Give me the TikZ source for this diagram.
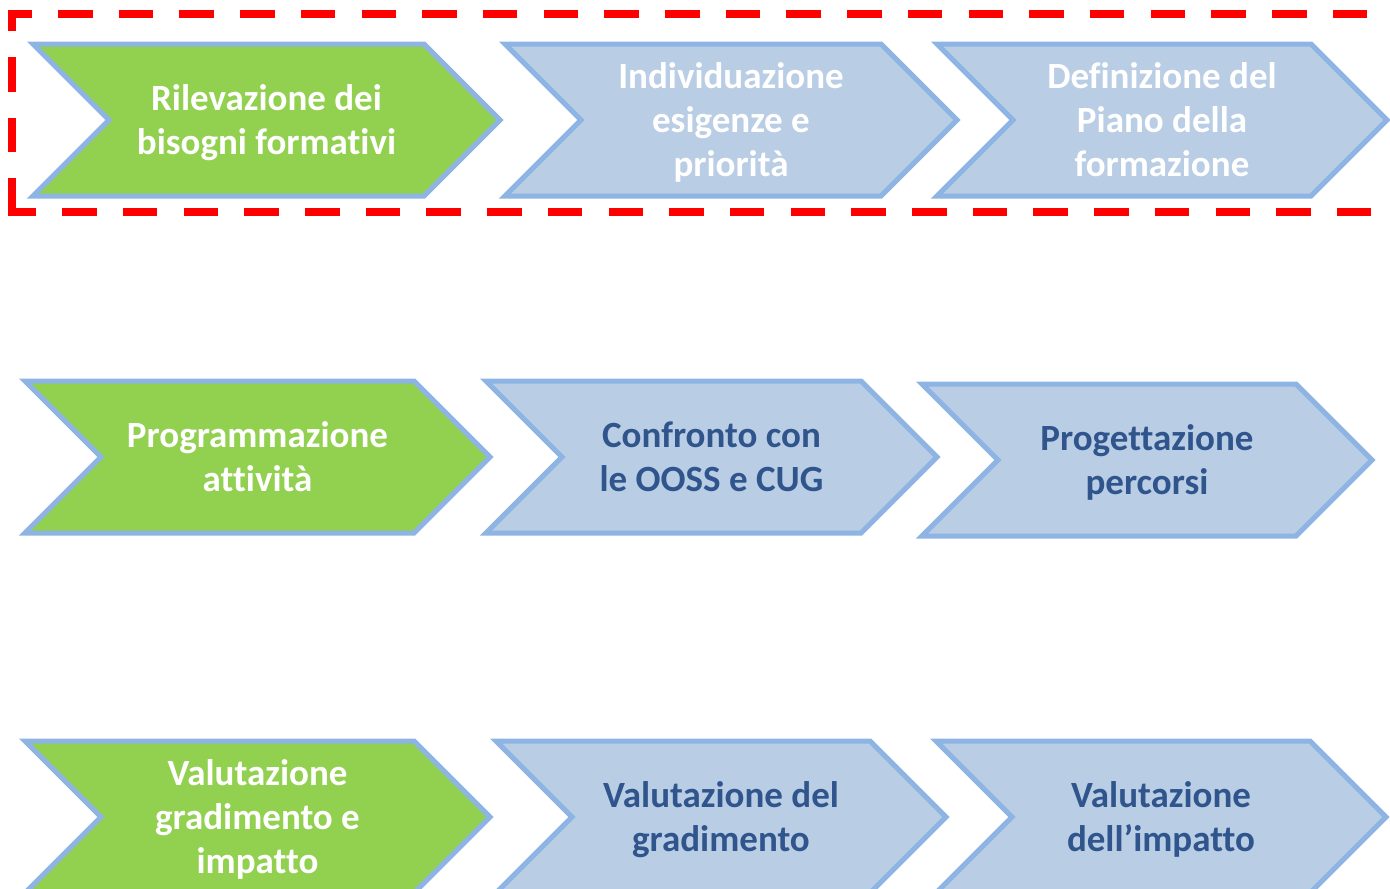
\documentclass[tikz,border=0pt]{standalone}
\usepackage{fontspec}
\setmainfont{Carlito}[Ligatures=NoCommon, RawFeature={-liga;-clig;-calt;-dlig;-rlig}]
\usetikzlibrary{shapes.symbols}
\definecolor{chevgreen}{HTML}{92D050}
\definecolor{chevblue}{HTML}{B9CDE5}
\definecolor{chevline}{HTML}{8DB4E2}
\definecolor{chevtext}{RGB}{47,85,140}
\tikzset{chevron/.style={signal, signal from=west, signal to=east, signal pointer angle=90,
                         draw=chevline, line width=5pt, minimum height=152pt, inner sep=0pt,
                         align=center, text depth=0pt, font=\bfseries\fontsize{37}{44}\selectfont},
         active/.style={chevron, fill=chevgreen, text=white},
         pending/.style={chevron, fill=chevblue, text=white},
         waiting/.style={chevron, fill=chevblue, text=chevtext},
         redline/.style={red, line width=8pt, dash pattern=on 34.5pt off 26.2pt},
        }

\begin{document}
\begin{tikzpicture}[x=1pt, y=-1pt]
        \useasboundingbox (0,0) rectangle (1390,889);
        \clip (0,0) rectangle (1390,889);

        % first row
        \node[active, minimum width=467pt](f1)at(266.5,120){Rilevazione dei\\bisogni formativi};
        \node[pending, minimum width=452pt](f2)at(731,120){Individuazione\\esigenze e\\priorità};
        \node[pending, minimum width=450pt](f3)at(1162,120){Definizione del\\Piano della\\formazione};

        % dashed frame round the first row
        \draw[redline, dash phase=10.7pt](8,14)--(1420,14);
        \draw[redline, dash phase=13.7pt](12,10)--(12,216);
        \draw[redline, dash phase=6.5pt](8,212)--(1420,212);

        % second row
        \node[active, minimum width=465pt](f4)at(257.5,457){Programmazione\\attività};
        \node[waiting, minimum width=451pt](f5)at(711.5,457){Confronto con\\le OOSS e CUG};
        \node[waiting, minimum width=450pt](f6)at(1147,460){Progettazione\\percorsi};

        % third row
        \node[active, minimum width=465pt](f7)at(257.5,817){Valutazione\\gradimento e\\impatto};
        \node[waiting, minimum width=450pt](f8)at(721,817){Valutazione del\\gradimento};
        \node[waiting, minimum width=450pt](f9)at(1161,817){Valutazione\\dell’impatto};
    \end{tikzpicture}
\end{document}
